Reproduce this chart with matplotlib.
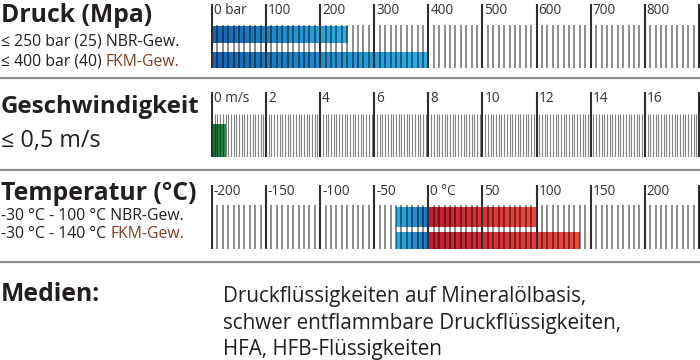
import numpy as np
import matplotlib
matplotlib.use("Agg")
import matplotlib.pyplot as plt
from matplotlib.colors import LinearSegmentedColormap
from matplotlib.lines import Line2D

plt.rcParams['font.family'] = ['Open Sans', 'DejaVu Sans']

# Druck
druck_major = [0, 100, 200, 300, 400, 500, 600, 700, 800, 900]
druck_labels = ["0 bar", "100", "200", "300", "400", "500", "600", "700", "800", ""]
druck_nbr = 250
druck_fkm = 400

# Geschwindigkeit
speed_major = [0, 2, 4, 6, 8, 10, 12, 14, 16, 18]
speed_labels = ["0 m/s", "2", "4", "6", "8", "10", "12", "14", "16", ""]
speed_max = 0.5

# Temperatur
temp_major = [-200, -150, -100, -50, 0, 50, 100, 150, 200, 250]
temp_labels = ["-200", "-150", "-100", "-50", "0 °C", "50", "100", "150", "200", ""]
temp_nbr = (-30, 100)
temp_fkm = (-30, 140)

W, H = 700, 360
TXT = "#231f20"
BROWN = "#7b3f22"

blue_cm = LinearSegmentedColormap.from_list("b", ["#1766b3", "#2cb0e8"])
cold_cm = LinearSegmentedColormap.from_list("c", ["#2cb0e8", "#1d74bd"])
red_cm = LinearSegmentedColormap.from_list("r", ["#c21f30", "#f04a3f"])
green_cm = LinearSegmentedColormap.from_list("g", ["#127236", "#23964b"])

fig = plt.figure(figsize=(W / 100, H / 100), dpi=100)


def px_axes(top, bottom):
    ax = fig.add_axes([211 / W, 1 - bottom / H, (W - 211) / W, (bottom - top) / H])
    ax.set_axis_off()
    ax.set_ylim(bottom, top)
    return ax


def grad_bar(ax, x0, x1, y0, y1, cmap):
    g = np.linspace(0, 1, 256).reshape(1, -1)
    ax.imshow(g, cmap=cmap, aspect="auto", extent=[x0, x1, y1, y0],
              interpolation="bilinear", zorder=1)


def gauge(ax, major, labels, minor_step, top, minor_top, bottom, minor_alpha, minor_lw):
    lo, hi = major[0], major[-1]
    step = (major[1] - major[0])
    ax.set_xlim(lo - step * 0.018, hi + step * 0.02)
    minors = np.arange(lo, hi + minor_step / 2, minor_step)
    minors = [m for m in minors if not np.isclose(m, major).any()]
    # semi-transparent black so the ticks darken the coloured bars
    ax.vlines(minors, minor_top, bottom, color="black", alpha=minor_alpha,
              lw=minor_lw, zorder=2)
    ax.vlines(major, top, bottom, color="#2e2e2e", lw=1.5, zorder=3)
    for m, lab in zip(major, labels):
        ax.text(m + step * 0.035, top - 1, lab, fontsize=9.8, color="#333333",
                va="top", ha="left")


# --- Druck gauge
ax1 = px_axes(4, 68)
grad_bar(ax1, 0, druck_nbr, 26, 43, blue_cm)
grad_bar(ax1, 0, druck_fkm, 52, 68, blue_cm)
gauge(ax1, druck_major, druck_labels, 10, 4, 25, 68, 0.55, 1.15)

# --- Geschwindigkeit gauge
ax2 = px_axes(92, 157)
grad_bar(ax2, 0, speed_max, 124, 157, green_cm)
gauge(ax2, speed_major, speed_labels, 0.1, 92, 114, 157, 0.48, 0.8)

# --- Temperatur gauge
ax3 = px_axes(185, 249)
for (lo, hi), (y0, y1) in zip([temp_nbr, temp_fkm], [(208, 227), (232, 249)]):
    grad_bar(ax3, lo, 0, y0, y1, cold_cm)
    grad_bar(ax3, 0, hi, y0, y1, red_cm)
gauge(ax3, temp_major, temp_labels, 5, 185, 205, 249, 0.55, 1.15)

# separators
for y in (78, 170, 262):
    fig.add_artist(Line2D([0, 1], [1 - y / H, 1 - y / H], color="#8e8e8e", lw=1.6))


def t(x, y, s, size, bold=False, color=TXT):
    return fig.text(x / W, 1 - y / H, s, fontsize=size, color=color,
                    fontweight="bold" if bold else "normal", va="baseline", ha="left")


SMALL = 11.3
t(1, 22, "Druck (Mpa)", 17.8, bold=True)
t(1, 45, "≤ 250 bar (25) NBR-Gew.", SMALL)
t(1, 66, "≤ 400 bar (40) ", SMALL)
t(1, 113, "Geschwindigkeit", 17.4, bold=True)
t(1, 147, "≤ 0,5 m/s", 16.8)
t(1, 200, "Temperatur (°C)", 17.8, bold=True)
t(1, 220, "-30 °C - 100 °C NBR-Gew.", SMALL)
t(1, 238, "-30 °C - 140 °C ", SMALL)
t(1, 301, "Medien:", 17.8, bold=True)
for i, line in enumerate(["Druckflüssigkeiten auf Mineralölbasis,",
                          "schwer entflammbare Druckflüssigkeiten,",
                          "HFA, HFB-Flüssigkeiten"]):
    t(223, 302 + i * 26.5, line, 14.9)

# brown suffixes placed after the measured prefix
fig.canvas.draw()
rend = fig.canvas.get_renderer()
for txt in list(fig.texts):
    s = txt.get_text()
    if s.endswith("(40) ") or s.endswith("140 °C "):
        bb = txt.get_window_extent(rend)
        fig.text(bb.x1 / W, txt.get_position()[1], "FKM-Gew.", fontsize=SMALL,
                 color=BROWN, va="baseline", ha="left")

fig.savefig("out.png", dpi=100)
